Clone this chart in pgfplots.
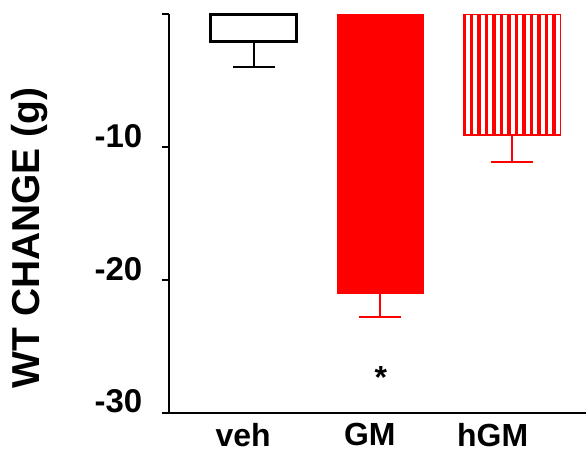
\documentclass[border=0pt]{standalone}
\usepackage{fontspec}
\setmainfont{Liberation Sans}
\usepackage{pgfplots}
\pgfplotsset{compat=1.18}
\usetikzlibrary{patterns.meta}

\begin{document}
\begin{tikzpicture}
\begin{axis}[
  scale only axis, width=418pt, height=399pt,
  xmin=0, xmax=418, ymin=-30, ymax=0,
  axis x line*=bottom, axis y line*=left,
  axis line style={line width=2pt, black},
  xtick={74.5,201.5,324.5}, xticklabels={veh,GM,hGM},
  ytick={-30,-20,-10,0}, yticklabels={-30,-20,-10,{}},
  x tick style={draw=none},
  y tick style={line width=2pt, black},
  tick align=outside, major tick length=7pt,
  xticklabel style={font=\fontsize{32}{34}\selectfont\bfseries},
  yticklabel style={font=\fontsize{33}{35}\selectfont\bfseries, xshift=-16pt, yshift=11pt},
  ylabel={WT CHANGE (g)},
  ylabel style={font=\fontsize{39}{42}\selectfont\bfseries, at={(axis description cs:-0.3325,0.4386)}, anchor=center},
  clip=false,
  ybar, bar shift=0pt,
]
\addplot[ybar, bar width=86pt, fill=white, draw=black, line width=2.5pt,
  error bars/.cd, y dir=minus, y explicit,
  error bar style={line width=2pt, black},
  error mark options={rotate=90, mark size=21pt, line width=2pt, black}]
  coordinates {(85,-2.05) -= (0,1.95)};
\addplot[ybar, bar width=86pt, fill=red, draw=red, line width=0.5pt,
  error bars/.cd, y dir=minus, y explicit,
  error bar style={line width=2pt, red},
  error mark options={rotate=90, mark size=21pt, line width=2pt, red}]
  coordinates {(211.5,-21.0) -= (0,1.8)};
\addplot[ybar, bar width=97pt, draw=red, line width=1.5pt,
  pattern={Lines[angle=90, distance=7.5pt, line width=3.5pt]}, pattern color=red,
  error bars/.cd, y dir=minus, y explicit,
  error bar style={line width=2pt, red},
  error mark options={rotate=90, mark size=21pt, line width=2pt, red}]
  coordinates {(344,-9.1) -= (0,2.05)};
\node[anchor=base, font=\fontsize{32}{34}\selectfont\bfseries] at (axis cs:212.5,-28.15) {*};
\coordinate (TL) at (rel axis cs:0,1);
\coordinate (BR) at (rel axis cs:1,0);
\end{axis}
\path ([xshift=-169pt,yshift=14pt]TL) rectangle ([yshift=-51pt]BR);
\end{tikzpicture}
\end{document}
